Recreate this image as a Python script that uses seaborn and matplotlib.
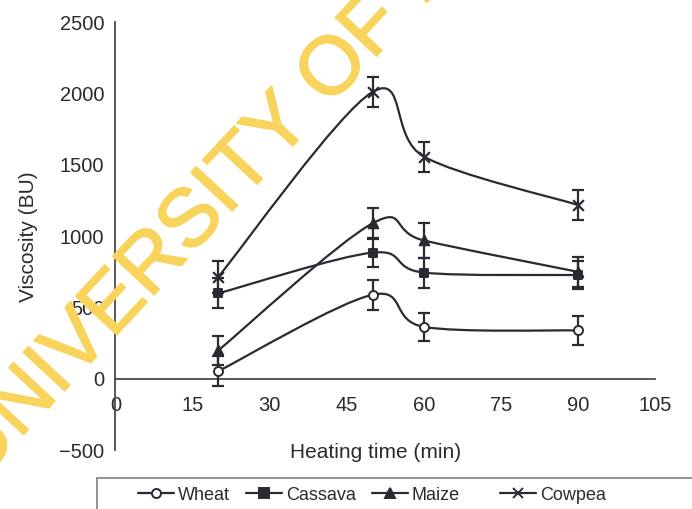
import numpy as np
import pandas as pd
import matplotlib
matplotlib.use("Agg")
import matplotlib.pyplot as plt
import matplotlib.patheffects as pe
import seaborn as sns
from matplotlib.path import Path
from matplotlib.patches import PathPatch, Rectangle
from matplotlib.lines import Line2D

# ---- data ----
heating_time = [20, 50, 60, 90]
wheat = [55, 590, 365, 340]
cassava = [600, 885, 745, 728]
maize = [200, 1090, 970, 750]
cowpea = [715, 2010, 1557, 1218]
wheat_err = [105, 105, 100, 100]
cassava_err = [105, 100, 105, 100]
maize_err = [100, 110, 120, 105]
cowpea_err = [110, 105, 105, 105]
series_names = ["Wheat", "Cassava", "Maize", "Cowpea"]
x_ticks = [0, 15, 30, 45, 60, 75, 90, 105]
y_ticks = [-500, 0, 500, 1000, 1500, 2000, 2500]

values = {"Wheat": wheat, "Cassava": cassava, "Maize": maize, "Cowpea": cowpea}
errors = {"Wheat": wheat_err, "Cassava": cassava_err, "Maize": maize_err, "Cowpea": cowpea_err}

rows = []
for name in series_names:
    for t, v, e in zip(heating_time, values[name], errors[name]):
        rows.append({"time": t, "viscosity": v, "err": e, "grain": name})
df = pd.DataFrame(rows)

sns.set_theme(style="white")
plt.rcParams["font.family"] = ["Liberation Sans", "DejaVu Sans"]

INK = "#2a2a33"
TXT = "#2b2b2b"
markers = {"Wheat": "o", "Cassava": "s", "Maize": "^", "Cowpea": "x"}
msizes = {"Wheat": 42, "Cassava": 40, "Maize": 48, "Cowpea": 60}

fig = plt.figure(figsize=(6.92, 5.09), dpi=100)
ax = fig.add_axes([115.4 / 692, (509 - 450.4) / 509, 540 / 692, 428.4 / 509])


def smooth_path(xs, ys):
    pts = np.column_stack([xs, ys]).astype(float)
    n = len(pts)
    verts = [pts[0]]
    codes = [Path.MOVETO]
    for i in range(n - 1):
        p0 = pts[i - 1] if i > 0 else pts[i]
        p1 = pts[i]
        p2 = pts[i + 1]
        p3 = pts[i + 2] if i + 2 < n else pts[i + 1]
        c1 = p1 + (p2 - p0) / 6.0
        c2 = p2 - (p3 - p1) / 6.0
        verts += [c1, c2, p2]
        codes += [Path.CURVE4] * 3
    return Path(verts, codes)


for name in series_names:
    sub = df[df["grain"] == name]
    ax.add_patch(PathPatch(smooth_path(sub["time"], sub["viscosity"]),
                           facecolor="none", edgecolor=INK, lw=1.6, zorder=3))
    ax.errorbar(sub["time"], sub["viscosity"], yerr=sub["err"], fmt="none",
                ecolor=INK, elinewidth=1.6, capsize=4, capthick=1.6, zorder=4)

for name in series_names:
    sub = df[df["grain"] == name]
    face = "white" if name == "Wheat" else INK
    if name == "Cowpea":
        sns.scatterplot(data=sub, x="time", y="viscosity", marker="x", s=msizes[name],
                        color=INK, linewidth=1.6, ax=ax, zorder=5, legend=False)
    else:
        sns.scatterplot(data=sub, x="time", y="viscosity", marker=markers[name],
                        s=msizes[name], facecolor=face, edgecolor=INK, linewidth=1.4,
                        ax=ax, zorder=5, legend=False)

ax.set_xlim(0, 105)
ax.set_ylim(-500, 2500)
ax.set_xticks(x_ticks)
ax.set_yticks(y_ticks)
ax.set_yticklabels([("\u2212" + str(abs(v))) if v < 0 else str(v) for v in y_ticks])
ax.spines["top"].set_visible(False)
ax.spines["right"].set_visible(False)
ax.spines["bottom"].set_position(("data", 0))
for sp in ("left", "bottom"):
    ax.spines[sp].set_color("#4a4a4a")
    ax.spines[sp].set_linewidth(1.3)
ax.tick_params(axis="both", which="major", direction="out", length=5, width=1.2,
               color="#4a4a4a", labelsize=14.5, labelcolor=TXT)
ax.tick_params(axis="x", pad=7)
ax.tick_params(axis="y", pad=3)
ax.grid(False)
ax.set_facecolor("white")

ax.set_xlabel("Heating time (min)", fontsize=15, color=TXT)
ax.xaxis.set_label_coords(0.481, 0.018)
ax.set_ylabel("Viscosity (BU)", fontsize=15, color=TXT, labelpad=15)

# legend box below the chart
fig.patches.append(Rectangle((97 / 692, -0.05), 1.0, (509 - 478) / 509 + 0.05,
                             transform=fig.transFigure, fill=False,
                             edgecolor="#8a8a8a", lw=1.3))
legend_x = [138, 246, 372, 500]
for name, lx in zip(series_names, legend_x):
    face = "white" if name == "Wheat" else INK
    h = Line2D([0], [0], color=INK, lw=1.6, marker=markers[name],
               markersize=6.5, markerfacecolor=face, markeredgecolor=INK,
               markeredgewidth=1.4)
    fig.legend([h], [name], loc="center left",
               bbox_to_anchor=(lx / 692, 1 - 495 / 509), frameon=False,
               fontsize=13, handlelength=2.0, handletextpad=0.2,
               borderpad=0, borderaxespad=0, labelcolor=TXT)

# watermark
WM = "#F9D45C"
fig.text(-0.0308, 0.0515, "UNIVERSITY OF IBADAN", rotation=47, rotation_mode="anchor",
         ha="left", va="baseline", fontsize=59, color=WM,
         family=["Liberation Sans", "DejaVu Sans"], zorder=20,
         path_effects=[pe.withStroke(linewidth=1.2, foreground=WM)])

fig.savefig("out.png", dpi=100, facecolor="white")
